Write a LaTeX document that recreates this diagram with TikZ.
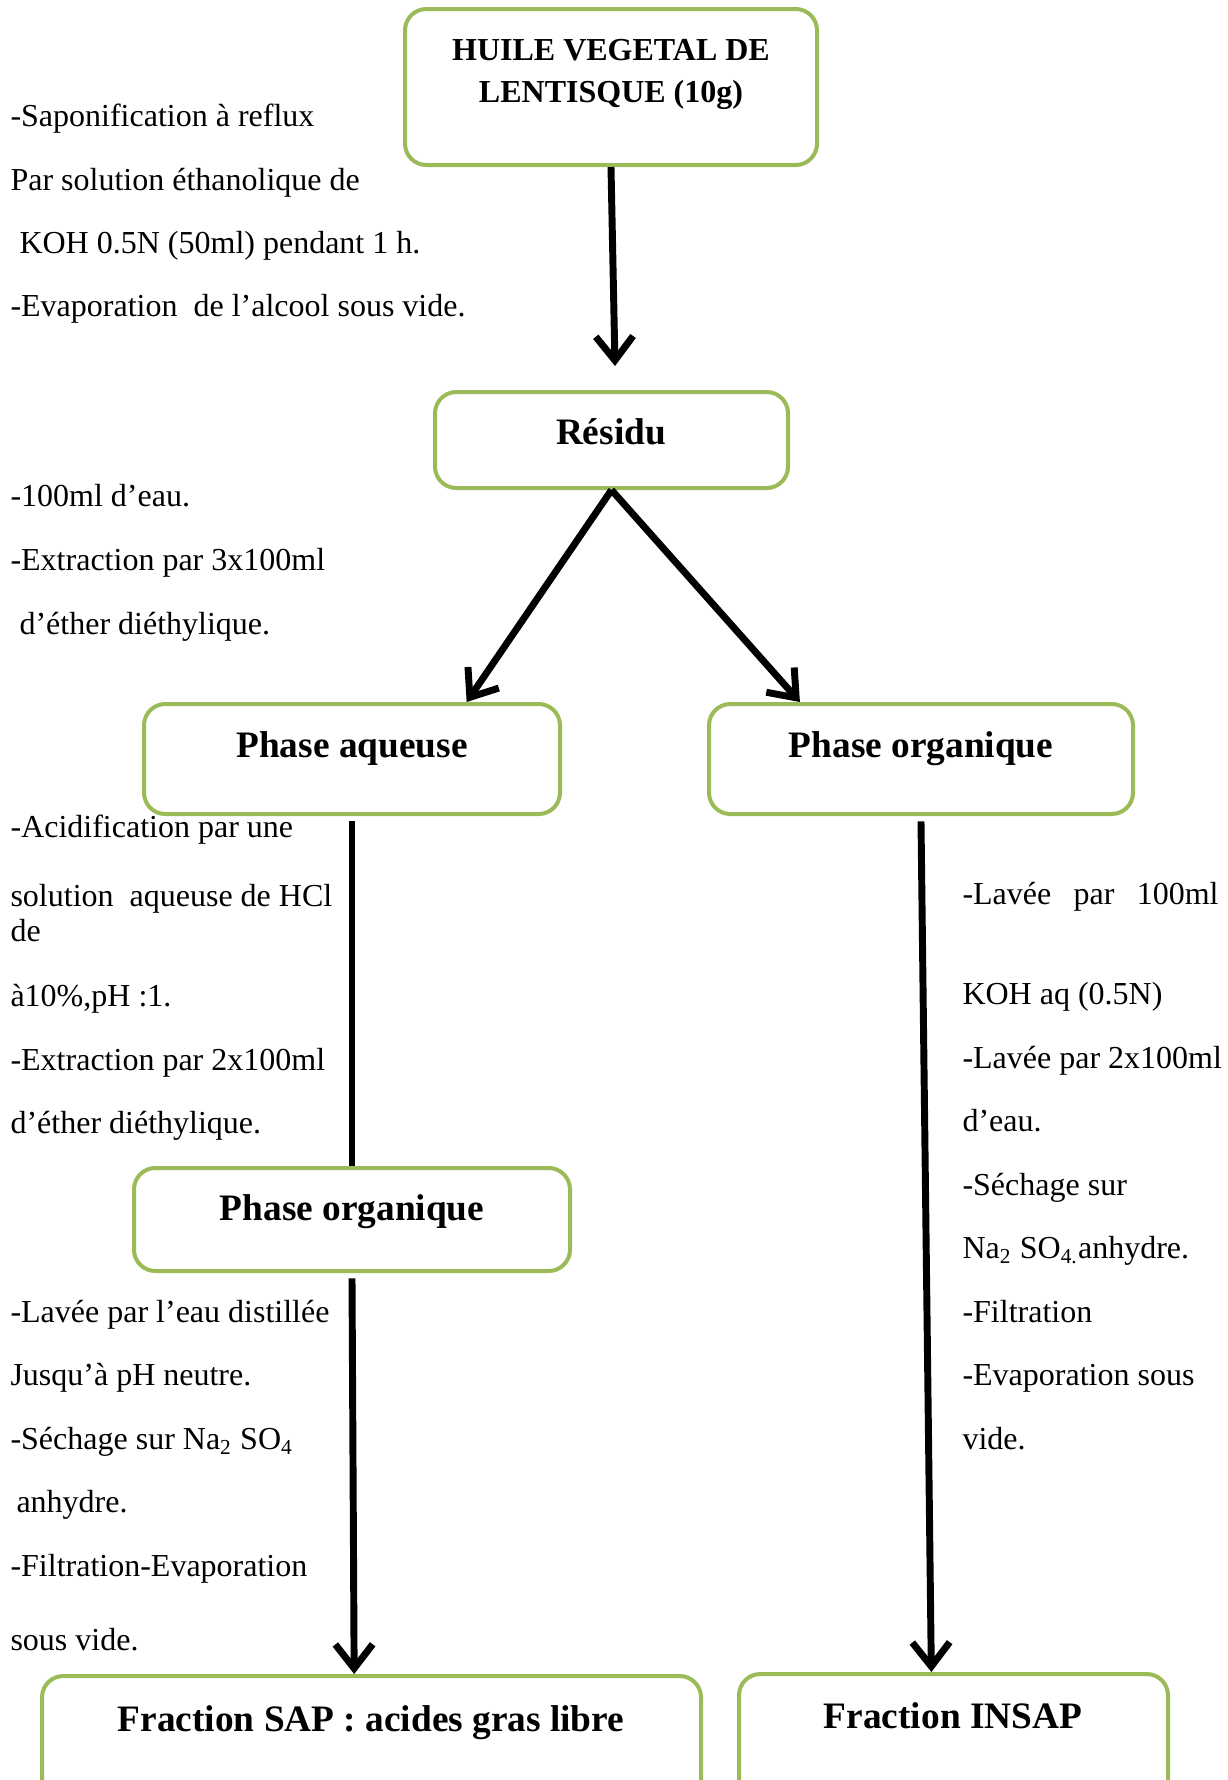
\documentclass[tikz,border=0pt]{standalone}
\usepackage{fontspec}
\setmainfont{Liberation Serif}
\usetikzlibrary{arrows.meta,fit,calc}
\definecolor{boxgreen}{HTML}{9BBB59}
\begin{document}
\begin{tikzpicture}[x=0.375pt,y=-0.375pt,
  box/.style={draw=boxgreen, line width=1.5pt, rounded corners=8pt, inner sep=0pt},
  title/.style={anchor=base, inner sep=0pt, font=\fontsize{14}{16}\selectfont\bfseries},
  txt/.style={anchor=base west, inner sep=0pt, yshift=-1.4pt, font=\fontsize{12}{14}\selectfont},
  arr/.style={line width=2.6pt, -{Straight Barb[length=9pt,width=14pt]}},
  conn/.style={line width=2.6pt}]
\clip (0,0) rectangle (1228,1780);
\fill[white] (0,0) rectangle (1228,1780);

% boxes
\node[box, fit={(405,9) (817,165)}] (top) {};
\node[box, fit={(435,392) (788,488)}] (res) {};
\node[box, fit={(144,704) (560,814)}] (pa) {};
\node[box, fit={(709,704) (1133,814)}] (por) {};
\node[box, fit={(134,1168) (570,1271)}] (pol) {};
\node[box, fit={(42,1676) (701,1810)}] (fs) {};
\node[box, fit={(739,1674) (1168,1810)}] (fi) {};

% titles
\node[title, font=\fontsize{12}{14}\selectfont\bfseries] (t1a) at (611,60) {HUILE VEGETAL DE};
\node[title, font=\fontsize{12}{14}\selectfont\bfseries] (t1b) at (611,102) {LENTISQUE (10g)};
\node[title] (t2) at (611,444) {Résidu};
\node[title] (t3) at (352,757) {Phase aqueuse};
\node[title] (t4) at (921,757) {Phase organique};
\node[title] (t5) at (352,1220) {Phase organique};
\node[title] (t6) at (371,1731) {Fraction SAP : acides gras libre};
\node[title] (t7) at (953,1728) {Fraction INSAP};

% connectors
\draw[arr, shorten >=9pt] (top.south) -- ([xshift=1.5pt]res.north);
\draw[arr] (res.south) -- ([xshift=43pt]pa.north);
\draw[arr] (res.south) -- ([xshift=-45.4pt]por.north);
\draw[conn] ([yshift=-2pt]pa.south) -- (pol.north);
\draw[arr] ([yshift=-2pt]pol.south) -- ([xshift=-6.5pt]fs.north);
\draw[arr] ([yshift=-2pt]por.south) -- ([xshift=-8.3pt]fi.north);

% left texts, block 1
\node[txt] (a1) at (10,123) {-Saponification à reflux};
\node[txt] (a2) at (10,187) {Par solution éthanolique de};
\node[txt] (a3) at (19,250) {KOH 0.5N (50ml) pendant 1 h.};
\node[txt] (a4) at (10,313) {-Evaporation\ \ de l’alcool sous vide.};

% block 2
\node[txt] (b1) at (10,503) {-100ml d’eau.};
\node[txt] (b2) at (10,567) {-Extraction par 3x100ml};
\node[txt] (b3) at (19,631) {d’éther diéthylique.};

% block 3
\node[txt] (c1) at (10,834) {-Acidification par une};
\node[txt] (c2) at (10,903) {solution\ \ aqueuse de HCl};
\node[txt] (c3) at (10,938) {de};
\node[txt] (c4) at (10,1003) {à10\%,pH :1.};
\node[txt] (c5) at (10,1067) {-Extraction par 2x100ml};
\node[txt] (c6) at (10,1130) {d’éther diéthylique.};

% block 4
\node[txt] (d1) at (10,1319) {-Lavée par l’eau distillée};
\node[txt] (d2) at (10,1382) {Jusqu’à pH neutre.};
\node[txt] (d3) at (10,1446) {-Séchage sur Na\textsubscript{2} SO\textsubscript{4}};
\node[txt] (d4) at (16,1509) {anhydre.};
\node[txt] (d5) at (10,1573) {-Filtration-Evaporation};
\node[txt] (d6) at (10,1647) {sous vide.};

% right block
\node[txt] (e1) at (962,901) {\makebox[96pt][s]{-Lavée\hfill par\hfill 100ml}};
\node[txt] (e2) at (962,1001) {KOH aq (0.5N)};
\node[txt] (e3) at (962,1065) {-Lavée par 2x100ml};
\node[txt] (e4) at (962,1128) {d’eau.};
\node[txt] (e5) at (962,1192) {-Séchage sur};
\node[txt] (e6) at (962,1255) {Na\textsubscript{2} SO\textsubscript{4.}anhydre.};
\node[txt] (e7) at (962,1319) {-Filtration};
\node[txt] (e8) at (962,1382) {-Evaporation sous};
\node[txt] (e9) at (962,1446) {vide.};
\end{tikzpicture}
\end{document}
